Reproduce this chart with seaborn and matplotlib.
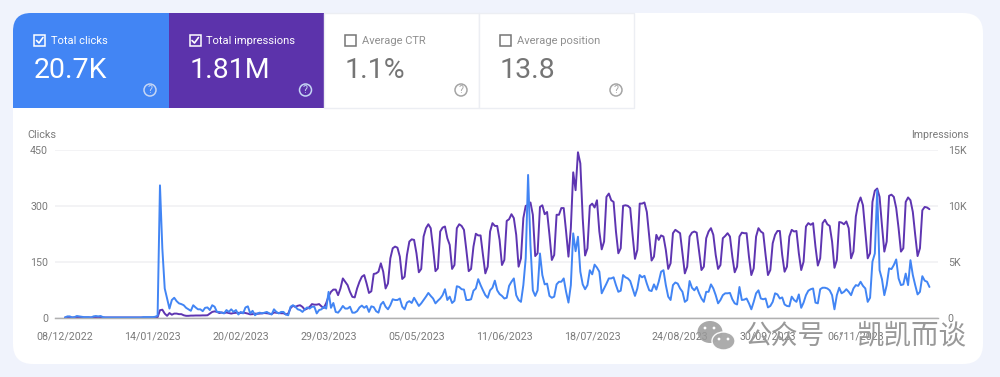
import pandas as pd
import matplotlib.pyplot as plt
import seaborn as sns
from matplotlib.patches import FancyBboxPatch, Rectangle, Circle, Ellipse, PathPatch
from matplotlib.path import Path

sns.set_style("white")
plt.rcParams['font.family'] = ['Roboto', 'Noto Sans CJK SC', 'DejaVu Sans']

# daily values, one row per week, starting 08/12/2022
clicks = [
    0, 3, 3, 0, 1, 4, 3,
    2, 1, 1, 1, 0, 3, 4,
    3, 4, 1, 0, 0, 0, 0,
    0, 0, 0, 0, 0, 0, 0,
    0, 0, 0, 0, 0, 1, 1,
    1, 1, 1, 2, 5, 355, 185,
    78, 51, 24, 47, 53, 44, 38,
    36, 33, 26, 22, 18, 33, 27,
    22, 22, 17, 26, 27, 20, 33,
    29, 15, 15, 13, 11, 20, 15,
    22, 15, 20, 8, 15, 11, 27,
    30, 11, 18, 6, 11, 13, 11,
    13, 15, 11, 8, 22, 15, 11,
    15, 15, 8, 6, 29, 33, 29,
    22, 20, 15, 22, 27, 24, 29,
    29, 11, 20, 22, 29, 24, 69,
    26, 39, 15, 13, 21, 31, 24,
    24, 29, 13, 13, 17, 27, 32,
    26, 31, 15, 30, 28, 17, 13,
    35, 42, 29, 22, 33, 49, 47,
    47, 51, 29, 22, 40, 44, 39,
    53, 42, 31, 38, 47, 56, 66,
    58, 51, 38, 45, 51, 60, 76,
    47, 56, 39, 45, 84, 82, 76,
    75, 47, 47, 49, 72, 78, 103,
    87, 73, 60, 53, 73, 80, 99,
    73, 63, 58, 51, 53, 85, 96,
    105, 60, 47, 42, 87, 159, 383,
    194, 73, 58, 73, 172, 114, 89,
    91, 58, 53, 56, 89, 96, 96,
    105, 69, 40, 87, 226, 178, 217,
    123, 89, 76, 87, 127, 116, 142,
    134, 123, 65, 78, 91, 105, 105,
    108, 87, 69, 72, 114, 108, 105,
    98, 78, 58, 78, 114, 108, 112,
    91, 73, 71, 89, 75, 96, 123,
    127, 87, 56, 47, 87, 94, 91,
    78, 69, 42, 47, 98, 80, 73,
    82, 65, 51, 42, 69, 69, 89,
    78, 60, 38, 47, 60, 65, 65,
    66, 49, 38, 35, 82, 47, 48,
    51, 38, 22, 42, 65, 73, 51,
    49, 51, 27, 31, 42, 65, 62,
    51, 54, 35, 31, 30, 56, 47,
    42, 62, 26, 40, 60, 72, 76,
    78, 40, 38, 76, 80, 80, 78,
    73, 60, 22, 60, 80, 65, 69,
    76, 69, 60, 78, 87, 85, 96,
    85, 78, 42, 53, 150, 172, 342,
    127, 103, 60, 87, 132, 130, 141,
    156, 105, 87, 89, 118, 87, 154,
    114, 87, 62, 69, 111, 99, 96,
    82,
]

impressions = [
    0, 0, 0, 0, 0, 0, 0,
    0, 0, 0, 0, 0, 0, 0,
    0, 0, 0, 0, 0, 0, 0,
    0, 0, 0, 0, 0, 0, 0,
    0, 0, 0, 0, 0, 0, 0,
    0, 0, 0, 0, 30, 650, 700,
    350, 150, 400, 250, 350, 350, 300,
    300, 200, 150, 150, 170, 170, 180,
    180, 180, 190, 190, 200, 350, 500,
    550, 500, 400, 450, 400, 450, 400,
    350, 400, 420, 420, 400, 450, 400,
    350, 280, 300, 350, 330, 350, 380,
    400, 380, 350, 300, 450, 420, 400,
    380, 380, 280, 350, 850, 1050, 950,
    1050, 1100, 950, 700, 800, 950, 1200,
    1150, 1150, 1200, 1000, 850, 1300, 1900,
    2300, 2500, 2500, 2000, 2600, 3500, 3200,
    2900, 2300, 1850, 1800, 2600, 3200, 3650,
    3800, 3050, 2200, 2350, 3900, 3950, 4100,
    4850, 4100, 2600, 3050, 5300, 6200, 6350,
    6250, 5450, 3450, 3650, 5600, 6800, 7000,
    6950, 5750, 4050, 4350, 7250, 8000, 8350,
    8000, 6200, 4150, 4400, 7700, 8050, 8150,
    7100, 6500, 4350, 4700, 8000, 8350, 8200,
    7850, 6050, 4150, 4350, 6350, 7500, 7350,
    7350, 5600, 3950, 4550, 7700, 8450, 8200,
    8200, 6950, 4700, 5150, 8650, 8800, 9250,
    8900, 7400, 4550, 5300, 8900, 10000, 10050,
    10300, 9200, 5500, 5750, 9900, 10050, 9250,
    9450, 7400, 5150, 5600, 9200, 9200, 9800,
    9800, 7700, 5450, 8000, 13000, 11400, 14800,
    13800, 8900, 5550, 6200, 10000, 10200, 9850,
    10500, 7700, 6100, 6800, 10800, 11100, 10500,
    10350, 7700, 5750, 6200, 10000, 10050, 10000,
    9800, 7400, 5250, 6050, 10200, 10200, 10300,
    9450, 7250, 5100, 5450, 7400, 6950, 7350,
    7250, 6050, 4350, 4850, 7550, 7850, 7700,
    7550, 5750, 3950, 4550, 7250, 7600, 7700,
    7600, 5900, 4250, 4550, 7100, 7700, 8000,
    7400, 5600, 4350, 4700, 7100, 7300, 7550,
    7250, 5450, 4050, 4550, 7250, 7600, 7550,
    7550, 5450, 3800, 4400, 7250, 8000, 7700,
    7550, 5600, 3800, 4250, 6650, 7400, 7750,
    7750, 5600, 4100, 4550, 7250, 7850, 7700,
    7750, 5750, 4250, 5000, 8150, 8450, 8300,
    8450, 6350, 4650, 5300, 8450, 8750, 8350,
    8200, 6800, 4450, 5150, 8550, 8500, 8350,
    8600, 8000, 5300, 5900, 9050, 10200, 10750,
    10050, 7700, 5300, 5750, 10350, 11350, 11550,
    10800, 8250, 5900, 6800, 10900, 11000, 10800,
    9800, 8000, 5900, 6200, 10350, 10750, 10500,
    9450, 7400, 5500, 6200, 9600, 9900, 9850,
    9700,
]

tick_dates = ['08/12/2022', '14/01/2023', '20/02/2023', '29/03/2023', '05/05/2023',
              '11/06/2023', '18/07/2023', '24/08/2023', '30/09/2023', '06/11/2023']
click_ticks = [0, 150, 300, 450]
click_labels = ['0', '150', '300', '450']
impression_ticks = [0, 5000, 10000, 15000]
impression_labels = ['0', '5K', '10K', '15K']

tile_names = ['Total clicks', 'Total impressions', 'Average CTR', 'Average position']
tile_values = ['20.7K', '1.81M', '1.1%', '13.8']

BLUE = '#4285f4'
PURPLE = '#5e35b1'
GREY = '#7a7a7a'
W, H = 1000, 377

df = pd.DataFrame({'date': pd.date_range('2022-12-08', periods=len(clicks)),
                   'clicks': clicks, 'impressions': impressions})

fig = plt.figure(figsize=(10, 3.77), dpi=100, facecolor='#f0f3fc')

# pixel-coordinate layer for the card and tiles
bg = fig.add_axes([0, 0, 1, 1], zorder=0)
bg.set_xlim(0, W)
bg.set_ylim(H, 0)
bg.axis('off')
bg.add_patch(FancyBboxPatch((13, 13), 970, 351, boxstyle='round,pad=0,rounding_size=20',
                            fc='white', ec='none'))


def left_tile(ax, x0, x1, y0, y1, r, color):
    verts = [(x0, y1), (x0, y0 + r), (x0, y0), (x0 + r, y0), (x1, y0), (x1, y1), (x0, y1)]
    codes = [Path.MOVETO, Path.LINETO, Path.CURVE3, Path.CURVE3, Path.LINETO, Path.LINETO, Path.CLOSEPOLY]
    ax.add_patch(PathPatch(Path(verts, codes), fc=color, ec='none'))


left_tile(bg, 13, 169, 13, 108, 18, BLUE)
bg.add_patch(Rectangle((168.5, 13), 155.5, 95, fc='#5c33ab', ec='none'))
bg.add_patch(Rectangle((324, 13), 155, 95, fc='white', ec='#eceef3', lw=1))
bg.add_patch(Rectangle((479, 13), 155, 95, fc='white', ec='#eceef3', lw=1))

tile_x = [13, 168.5, 324, 479]
for i, x in enumerate(tile_x):
    selected = i < 2
    fg = 'white' if selected else '#757575'
    bg.add_patch(Rectangle((x + 21, 35), 11, 11, fc='none', ec=fg, lw=1.1))
    if selected:
        bg.plot([x + 23.5, x + 26, x + 30], [40.5, 43, 37.5], color='white', lw=1.2)
    bg.text(x + 38, 40.5, tile_names[i], fontsize=8, color=fg if selected else '#909090',
            va='center', ha='left')
    bg.text(x + 21, 71, tile_values[i], fontsize=20.5, color=fg, va='center', ha='left')
    bg.add_patch(Circle((x + 137, 90), 6, fc='none', ec='#c5d6f5' if selected else '#a5a5a5', lw=1.1))
    bg.text(x + 137, 90, '?', fontsize=7.5, color='#c5d6f5' if selected else '#a5a5a5',
            va='center', ha='center')

# chart, clicks on the left axis and impressions on the right
ax = fig.add_axes([55 / W, 1 - 317.5 / H, 883 / W, 167.5 / H], zorder=2)
ax2 = ax.twinx()
ax.set_zorder(3)
ax2.set_zorder(2)
ax.patch.set_visible(False)
ax2.patch.set_visible(False)

sns.lineplot(data=df, x='date', y='impressions', ax=ax2, color=PURPLE, lw=1.4)
sns.lineplot(data=df, x='date', y='clicks', ax=ax, color=BLUE, lw=1.4)

ax.set_xlim(pd.Timestamp('2022-12-08') - pd.Timedelta(days=4.2),
            pd.Timestamp('2022-12-08') + pd.Timedelta(days=367.6))
ax.set_ylim(0, 450)
ax2.set_ylim(0, 15000)
ax.set_xticks(pd.to_datetime(tick_dates, format='%d/%m/%Y'))
ax.set_xticklabels(tick_dates)
ax.set_yticks(click_ticks)
ax.set_yticklabels(click_labels)
ax2.set_yticks(impression_ticks)
ax2.set_yticklabels(impression_labels)
ax.set_xlabel('')
ax.set_ylabel('')
ax2.set_xlabel('')
ax2.set_ylabel('')
ax.tick_params(axis='both', length=0, labelsize=7.7, labelcolor=GREY, pad=10)
ax.tick_params(axis='y', pad=5)
ax2.tick_params(axis='y', length=0, labelsize=7.7, labelcolor=GREY, pad=7)
ax2.grid(axis='y', color='#f1f1f3', lw=1.2)
ax2.set_axisbelow(True)
for a in (ax, ax2):
    for side in ('top', 'left', 'right'):
        a.spines[side].set_visible(False)
    a.spines['bottom'].set_color('#b0b0b0')
    a.spines['bottom'].set_linewidth(0.9)

bg.text(27, 134.5, 'Clicks', fontsize=7.8, color=GREY, va='center', ha='left')
bg.text(969, 134.5, 'Impressions', fontsize=7.6, color=GREY, va='center', ha='right')

# watermark sits over the tick labels
top = fig.add_axes([0, 0, 1, 1], zorder=5)
top.set_xlim(0, W)
top.set_ylim(H, 0)
top.axis('off')
top.add_patch(Ellipse((710, 332), 25, 22, fc='#9a9a9a', ec='none', alpha=0.85))
top.add_patch(Ellipse((723.5, 341), 23, 18, fc='#a8a8a8', ec='white', lw=1, alpha=0.95))
for ex, ey in [(705, 328), (714, 328), (719, 339), (728, 339)]:
    top.add_patch(Circle((ex, ey), 1.4, fc='white', ec='none'))
top.text(745, 336, '公众号', fontsize=19.3, color='#999999', va='center', ha='left')
top.text(840, 336, '·', fontsize=18, color='#999999', va='center', ha='center')
top.text(857, 336, '凯凯而谈', fontsize=19.8, color='#999999', va='center', ha='left')

plt.savefig('out.png', dpi=100, facecolor=fig.get_facecolor())
